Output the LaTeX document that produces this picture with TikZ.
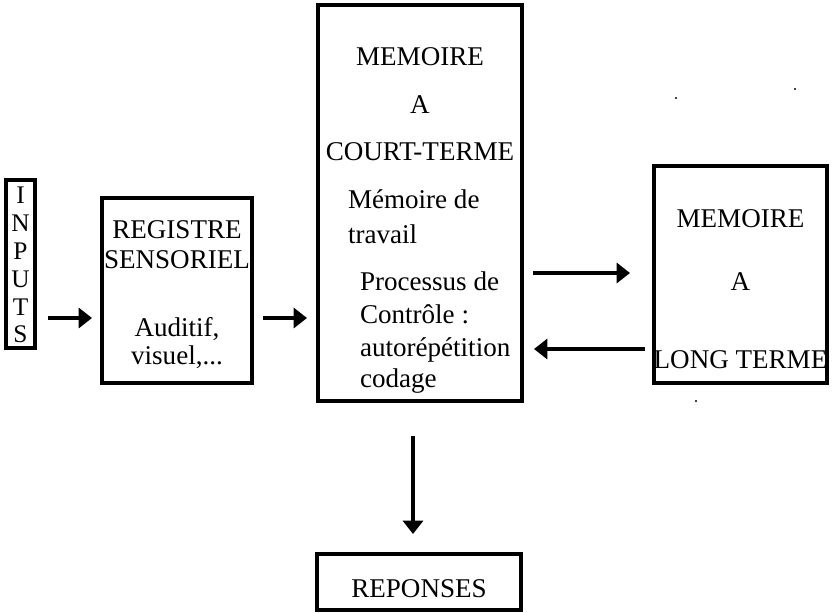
\documentclass[tikz,border=0pt]{standalone}
\usepackage{fontspec}
\setmainfont{Liberation Serif}
\usetikzlibrary{arrows.meta}
\begin{document}
\begin{tikzpicture}[x=0.75pt,y=-0.75pt,
  box/.style={draw, line width=2.6pt, inner sep=0pt, outer sep=0pt},
  bigbox/.style={box, line width=3.2pt},
  txt/.style={font=\fontsize{20.3}{24}\selectfont, inner sep=0pt, outer sep=0pt},
  ltr/.style={font=\fontsize{19}{22}\selectfont, inner sep=0pt, outer sep=0pt, anchor=base},
  arr/.style={line width=2.4pt, -{Triangle[length=10pt,width=15pt]}},
  speck/.style={fill=black}]
\useasboundingbox (0,0) rectangle (838,612);

% boxes
\node[box, minimum width=21.75pt, minimum height=126pt] (inputs) at (20.5,264) {};
\node[box, minimum width=112.5pt, minimum height=138.75pt] (registre) at (177,290.5) {};
\node[bigbox, minimum width=153pt, minimum height=297pt] (mct) at (420,203) {};
\node[box, minimum width=129.75pt, minimum height=162.75pt] (mlt) at (740.5,274.5) {};
\node[box, minimum width=153pt, minimum height=42pt] (rep) at (419,582) {};

% INPUTS letters
\node[ltr] (l1) at (20.5,203) {I};
\node[ltr] (l2) at (20.5,231) {N};
\node[ltr] (l3) at (20.5,259) {P};
\node[ltr] (l4) at (20.5,287) {U};
\node[ltr] (l5) at (20.5,315) {T};
\node[ltr] (l6) at (20.5,342) {S};

% registre texts
\node[txt, anchor=base] (r1) at (177,238) {REGISTRE};
\node[txt, anchor=base] (r2) at (177,268) {SENSORIEL};
\node[txt, anchor=base] (r3) at (177,336) {Auditif,};
\node[txt, anchor=base] (r4) at (177,364) {visuel,...};

% court terme texts
\node[txt, anchor=base] (c1) at (420,65) {MEMOIRE};
\node[txt, anchor=base] (c2) at (420,113) {A};
\node[txt, anchor=base] (c3) at (420,160) {COURT-TERME};
\node[txt, anchor=base west] (c4) at (348,208) {Mémoire de};
\node[txt, anchor=base west] (c5) at (348,243) {travail};
\node[txt, anchor=base west] (c6) at (360,290) {Processus de};
\node[txt, anchor=base west] (c7) at (360,323) {Contrôle :};
\node[txt, anchor=base west] (c8) at (360,356) {autorépétition};
\node[txt, anchor=base west] (c9) at (360,387) {codage};

% long terme texts
\node[txt, anchor=base] (t1) at (740.5,227) {MEMOIRE};
\node[txt, anchor=base] (t2) at (740.5,290) {A};
\node[txt, anchor=base] (t3) at (740.5,368) {LONG TERME};

% reponses
\node[txt, anchor=base] (p1) at (419,597) {REPONSES};

% arrow levels
\coordinate (ya) at (0,318);
\coordinate (yb) at (0,273);
\coordinate (yc) at (0,349);
\coordinate (xd) at (413,0);

\draw[arr, shorten <=9.75pt, shorten >=7.5pt] (inputs.east |- ya) -- (registre.west |- ya);
\draw[arr, shorten <=8.25pt, shorten >=8.25pt] (registre.east |- ya) -- (mct.west |- ya);
\draw[arr, shorten <=8.25pt, shorten >=18pt] (mct.east |- yb) -- (mlt.west |- yb);
\draw[arr, shorten <=6.75pt, shorten >=9pt] (mlt.west |- yc) -- (mct.east |- yc);
\draw[arr, shorten <=26.25pt, shorten >=15pt] (mct.south -| xd) -- (rep.north -| xd);

% specks
\fill[speck] (676,98) circle (0.9pt);
\fill[speck] (795,89) circle (0.9pt);
\fill[speck] (696,401) circle (0.9pt);
\end{tikzpicture}
\end{document}
